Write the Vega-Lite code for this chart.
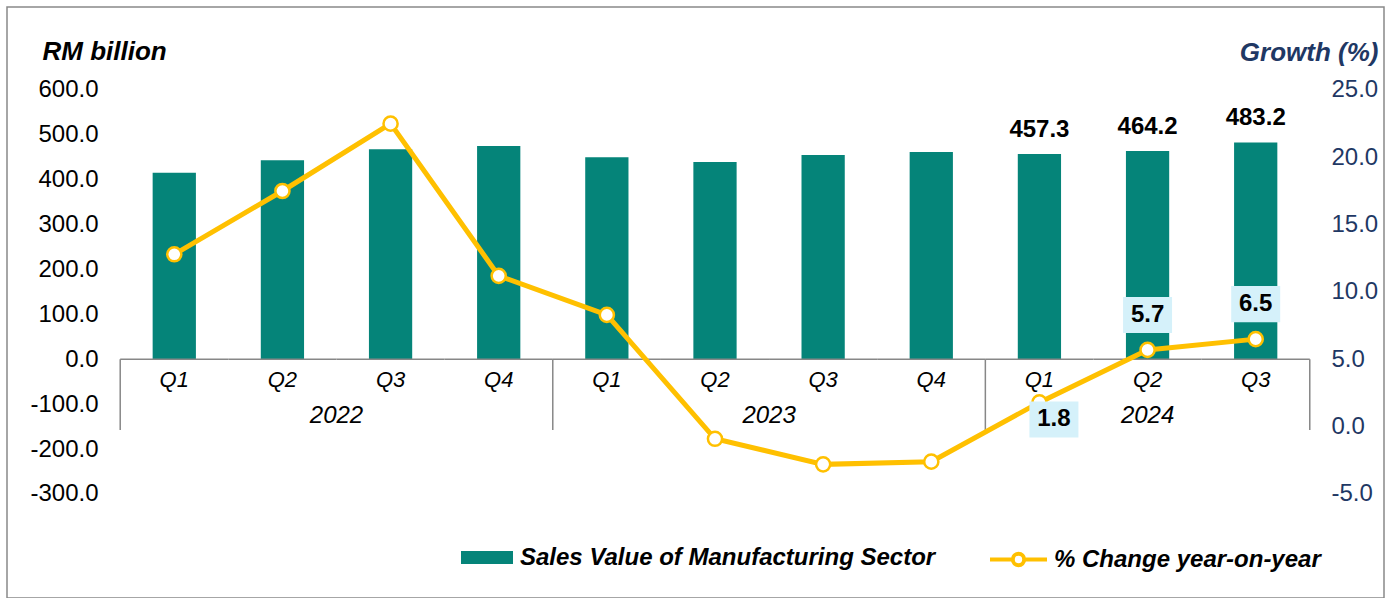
{
  "$schema": "https://vega.github.io/schema/vega-lite/v6.json",
  "width": 1377,
  "height": 591,
  "autosize": {"type": "none"},
  "padding": {"left": 7, "top": 7, "right": 8, "bottom": 0},
  "background": "white",
  "config": {"font": "Liberation Sans", "view": {"stroke": "#898989", "strokeWidth": 1.5}},
  "datasets": {
    "main": [
      {"cat": "2022 Q1", "q": "Q1", "year": "2022", "sales": 415.7, "growth": 12.8},
      {"cat": "2022 Q2", "q": "Q2", "year": "2022", "sales": 443.3, "growth": 17.5},
      {"cat": "2022 Q3", "q": "Q3", "year": "2022", "sales": 467.8, "growth": 22.5},
      {"cat": "2022 Q4", "q": "Q4", "year": "2022", "sales": 475.2, "growth": 11.2},
      {"cat": "2023 Q1", "q": "Q1", "year": "2023", "sales": 450.0, "growth": 8.3},
      {"cat": "2023 Q2", "q": "Q2", "year": "2023", "sales": 439.5, "growth": -0.9},
      {"cat": "2023 Q3", "q": "Q3", "year": "2023", "sales": 455.1, "growth": -2.8},
      {"cat": "2023 Q4", "q": "Q4", "year": "2023", "sales": 461.8, "growth": -2.6},
      {"cat": "2024 Q1", "q": "Q1", "year": "2024", "sales": 457.3, "growth": 1.8},
      {"cat": "2024 Q2", "q": "Q2", "year": "2024", "sales": 464.2, "growth": 5.7},
      {"cat": "2024 Q3", "q": "Q3", "year": "2024", "sales": 483.2, "growth": 6.5}
    ]
  },
  "data": {"name": "main"},
  "encoding": {
    "x": {"field": "cat", "type": "nominal", "axis": null,
          "scale": {"type": "band", "paddingInner": 0, "paddingOuter": 0.8666, "align": 0.604}}
  },
  "layer": [
    {
      "layer": [
        {
          "mark": {"type": "bar", "width": {"band": 0.4}},
          "encoding": {
            "y": {"field": "sales", "type": "quantitative",
                  "scale": {"domain": [-531.7, 784.9], "nice": false, "zero": false},
                  "axis": {"orient": "left", "values": [-300, -200, -100, 0, 100, 200, 300, 400, 500, 600],
                           "labelExpr": "replace(format(datum.value, '.1f'), '−', '-')",
                           "domain": false, "grid": false, "ticks": false, "tickSize": 0, "labelPadding": 0,
                           "offset": -91, "labelFontSize": 24, "labelColor": "black", "labelFlush": false,
                           "labelOverlap": false, "labelBound": false,
                           "title": "RM billion", "titleFontSize": 26, "titleFontWeight": "bold",
                           "titleFontStyle": "italic", "titleColor": "black", "titleAngle": 0,
                           "titleAlign": "left", "titleBaseline": "alphabetic", "titleX": -56, "titleY": 52}},
            "y2": {"datum": 0},
            "fill": {"datum": "Sales Value of Manufacturing Sector", "type": "nominal",
                     "scale": {"range": ["#058479"]},
                     "legend": {"orient": "none", "legendX": 454, "legendY": 524.5, "title": null, "padding": 0,
                                "symbolType": "M-1,-0.25L1,-0.25L1,0.25L-1,0.25Z", "symbolSize": 2704,
                                "symbolStrokeWidth": 0, "labelOffset": 7, "labelFontSize": 24,
                                "labelFontWeight": "bold", "labelFontStyle": "italic", "labelColor": "black",
                                "labelLimit": 0}}
          }
        },
        {
          "mark": {"type": "rect", "filled": false, "stroke": "#878787", "strokeWidth": 1.5},
          "encoding": {"y": {"datum": 0}, "y2": {"datum": 0}}
        },
        {
          "transform": [{"filter": "datum.q === 'Q1'"}],
          "mark": {"type": "rule", "stroke": "#878787", "strokeWidth": 1.5},
          "encoding": {
            "x": {"field": "cat", "type": "nominal", "bandPosition": 0},
            "y": {"datum": 0}, "y2": {"datum": -157.5}
          }
        },
        {
          "transform": [{"filter": "datum.cat === '2024 Q3'"}],
          "mark": {"type": "rule", "stroke": "#878787", "strokeWidth": 1.5},
          "encoding": {
            "x": {"field": "cat", "type": "nominal", "bandPosition": 1},
            "y": {"datum": 0}, "y2": {"datum": -157.5}
          }
        },
        {
          "mark": {"type": "text", "dy": 21, "baseline": "middle", "fontSize": 22, "fontStyle": "italic", "color": "black"},
          "encoding": {"y": {"datum": 0}, "text": {"field": "q"}}
        },
        {
          "transform": [{"filter": "datum.q === 'Q2' && datum.year !== '2024'"}],
          "mark": {"type": "text", "dy": 57, "baseline": "middle", "fontSize": 24, "fontStyle": "italic", "color": "black"},
          "encoding": {
            "x": {"field": "cat", "type": "nominal", "bandPosition": 1},
            "y": {"datum": 0}, "text": {"field": "year"}
          }
        },
        {
          "transform": [{"filter": "datum.cat === '2024 Q2'"}],
          "mark": {"type": "text", "dy": 57, "baseline": "middle", "fontSize": 24, "fontStyle": "italic", "color": "black"},
          "encoding": {
            "x": {"field": "cat", "type": "nominal", "bandPosition": 0.5},
            "y": {"datum": 0}, "text": {"field": "year"}
          }
        },
        {
          "transform": [{"filter": "datum.year === '2024'"}],
          "mark": {"type": "text", "dy": -17, "baseline": "alphabetic", "fontSize": 24, "fontWeight": "bold", "color": "black"},
          "encoding": {
            "y": {"field": "sales", "type": "quantitative"},
            "text": {"field": "sales", "type": "quantitative", "format": ".1f"}
          }
        }
      ]
    },
    {
      "layer": [
        {
          "mark": {"type": "line", "strokeWidth": 5},
          "encoding": {
            "y": {"field": "growth", "type": "quantitative",
                  "scale": {"domain": [-12.723, 31.163], "nice": false, "zero": false},
                  "axis": {"orient": "right", "values": [-5, 0, 5, 10, 15, 20, 25],
                           "labelExpr": "replace(format(datum.value, '.1f'), '−', '-')",
                           "domain": false, "grid": false, "ticks": false, "tickSize": 0, "labelPadding": 0,
                           "offset": -53, "labelFontSize": 24, "labelColor": "#1F3864", "labelAlign": "left",
                           "labelFlush": false, "labelOverlap": false, "labelBound": false,
                           "title": "Growth (%)", "titleFontSize": 26, "titleFontWeight": "bold",
                           "titleFontStyle": "italic", "titleColor": "#1F3864", "titleAngle": 0,
                           "titleAlign": "right", "titleBaseline": "alphabetic", "titleX": 47, "titleY": 53}},
            "stroke": {"datum": "% Change year-on-year", "type": "nominal",
                       "scale": {"range": ["#FFC000"]},
                       "legend": {"orient": "none", "legendX": 981, "legendY": 522, "title": null, "padding": 0,
                                  "symbolType": "M-1,0L-0.2,0M0.2,0L1,0M0.2,0A0.2,0.2 0 1 1 -0.2,0A0.2,0.2 0 1 1 0.2,0",
                                  "symbolSize": 3249, "symbolStrokeWidth": 4, "symbolFillColor": "white",
                                  "labelOffset": 5, "labelFontSize": 24, "labelFontWeight": "bold",
                                  "labelFontStyle": "italic", "labelColor": "black", "labelLimit": 0}}
          }
        },
        {
          "mark": {"type": "point", "filled": true, "fill": "white", "stroke": "#FFC000", "strokeWidth": 2.5, "size": 200, "opacity": 1},
          "encoding": {"y": {"field": "growth", "type": "quantitative"}}
        },
        {
          "transform": [{"filter": "datum.cat === '2024 Q2' || datum.cat === '2024 Q3'"}],
          "mark": {"type": "point", "shape": "M-1,-0.735L1,-0.735L1,0.735L-1,0.735Z", "size": 2401,
                   "filled": true, "fill": "#D5F1FA", "strokeWidth": 0, "opacity": 1, "yOffset": -35},
          "encoding": {"y": {"field": "growth", "type": "quantitative"}}
        },
        {
          "transform": [{"filter": "datum.cat === '2024 Q1'"}],
          "mark": {"type": "point", "shape": "M-1,-0.735L1,-0.735L1,0.735L-1,0.735Z", "size": 2401,
                   "filled": true, "fill": "#D5F1FA", "strokeWidth": 0, "opacity": 1, "yOffset": 17, "xOffset": 14.5},
          "encoding": {"y": {"field": "growth", "type": "quantitative"}}
        },
        {
          "transform": [{"filter": "datum.cat === '2024 Q2' || datum.cat === '2024 Q3'"}],
          "mark": {"type": "text", "dy": -35, "baseline": "middle", "fontSize": 24, "fontWeight": "bold", "color": "black"},
          "encoding": {
            "y": {"field": "growth", "type": "quantitative"},
            "text": {"field": "growth", "type": "quantitative", "format": ".1f"}
          }
        },
        {
          "transform": [{"filter": "datum.cat === '2024 Q1'"}],
          "mark": {"type": "text", "dy": 17, "dx": 14.5, "baseline": "middle", "fontSize": 24, "fontWeight": "bold", "color": "black"},
          "encoding": {
            "y": {"field": "growth", "type": "quantitative"},
            "text": {"field": "growth", "type": "quantitative", "format": ".1f"}
          }
        }
      ]
    }
  ],
  "resolve": {"scale": {"y": "independent"}}
}
